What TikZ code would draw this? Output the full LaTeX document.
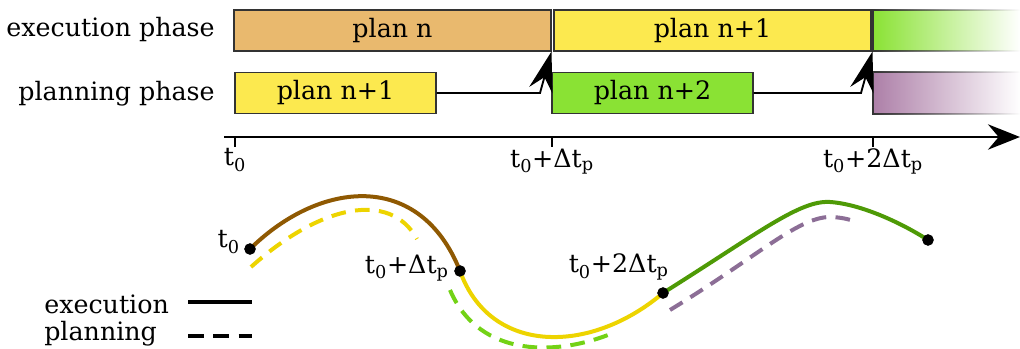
\documentclass[tikz,border=0pt]{standalone}
\usepackage{fontspec}
\setmainfont{DejaVu Serif}
\usetikzlibrary{arrows.meta,fadings}
\definecolor{tOrange}{HTML}{E9B96E}
\definecolor{tButter}{HTML}{FCE94F}
\definecolor{tGreen}{HTML}{8AE234}
\definecolor{tPlum}{HTML}{AD7FA8}
\definecolor{cBrown}{HTML}{8F5902}
\definecolor{cYellow}{HTML}{EDD400}
\definecolor{cGreenL}{HTML}{73D216}
\definecolor{cGreenD}{HTML}{4E9A06}
\definecolor{cPlum}{HTML}{8C6E96}
\tikzfading[name=fadeeast, left color=transparent!0, right color=transparent!100]
\newcommand{\tz}{t\textsubscript{0}}
\newcommand{\tp}{t\textsubscript{p}}
\begin{document}
\begin{tikzpicture}[x=0.75pt,y=-0.75pt,
  font=\fontsize{19}{21}\selectfont,
  phasebox/.style={draw=black!80, line width=1.1pt, minimum height=31pt, inner sep=0pt},
  wide/.style={minimum width=237.75pt},
  narrow/.style={minimum width=150.75pt},
  handoff/.style={draw=black, line width=1.4pt},
  traj/.style={line width=3pt},
  plantraj/.style={line width=3pt, dash pattern=on 11pt off 7pt},
  dot/.style={circle, fill=black, inner sep=0pt, minimum size=8.5pt},
  tick/.style={line width=1.8pt},
  ticklabel/.style={anchor=north, inner sep=1pt},
]
\useasboundingbox (0,0) rectangle (1020,349);

% row labels
\node[anchor=east, inner sep=0pt] (lexec) at (215,30) {execution phase};
\node[anchor=east, inner sep=0pt] (lplan) at (215,94) {planning phase};

% execution row
\node[phasebox, wide, fill=tOrange] (e1) at (392.5,30.5) {plan n};
\node[phasebox, wide, fill=tButter] (e2) at (712.5,30.5) {plan n+1};
\fill[tGreen, path fading=fadeeast] (873,10) rectangle (1020,51);
\draw[black!80, line width=1.1pt, path fading=fadeeast] (1020,10) -- (873,10) -- (873,51) -- (1020,51);

% planning row
\node[phasebox, narrow, fill=tButter] (p1) at (335.5,93) {plan n+1};
\node[phasebox, narrow, fill=tGreen] (p2) at (652.5,93) {plan n+2};
\fill[tPlum, path fading=fadeeast] (873,72) rectangle (1020,114);
\draw[black!80, line width=1.1pt, path fading=fadeeast] (1020,72) -- (873,72) -- (873,114) -- (1020,114);

% hand-off connectors
\coordinate (k1) at (540,0);
\coordinate (k2) at (861,0);
\coordinate (h1) at (551.5,51.5);
\coordinate (h2) at (872.5,51.5);
\draw[handoff, -{Stealth[length=30pt,width=18pt,inset=10pt]}] (p1.east) -- (p1.east -| k1) -- (h1);
\draw[handoff, -{Stealth[length=30pt,width=18pt,inset=10pt]}] (p2.east) -- (p2.east -| k2) -- (h2);

% time axis
\coordinate (a0) at (224,137);
\coordinate (a1) at (1020,137);
\draw[line width=2pt, -{Stealth[length=24pt,width=19pt,inset=8pt]}] (a0) -- (a1);
\coordinate (t0) at (235,137);
\coordinate (t1) at (552,137);
\coordinate (t2) at (873,137);
\draw[tick] (t0) -- ++(0,10) coordinate (t0b);
\draw[tick] (t1) -- ++(0,10) coordinate (t1b);
\draw[tick] (t2) -- ++(0,10) coordinate (t2b);
\node[ticklabel] (lt0) at (t0b) {\tz};
\node[ticklabel] (lt1) at (t1b) {\tz+Δ\tp};
\node[ticklabel] (lt2) at (t2b) {\tz+2Δ\tp};

% trajectories
\node[dot] (d0) at (250,249) {};
\node[dot] (d1) at (460,271) {};
\node[dot] (d2) at (663,293) {};
\node[dot] (d3) at (928,240) {};

\draw[plantraj, cYellow] (251,267) .. controls (320,205) and (390,190) .. (417,239);
\draw[plantraj, cGreenL] (450,290) .. controls (480,360) and (560,355) .. (613,333);
\draw[plantraj, cPlum] (670,310) .. controls (760,255) and (800,215) .. (833,217) .. controls (845,218) and (852,220) .. (858,223);

\draw[traj, cBrown] (d0.center) .. controls (320,180) and (420,170) .. (d1.center);
\draw[traj, cYellow] (d1.center) .. controls (490,355) and (590,355) .. (d2.center);
\draw[traj, cGreenD] (d2.center) .. controls (760,232) and (800,200) .. (830,202) .. controls (860,204) and (900,222) .. (d3.center);

\node[dot] at (d0) {};
\node[dot] at (d1) {};
\node[dot] at (d2) {};
\node[dot] at (d3) {};

\node[anchor=east, inner sep=0pt] (ld0) at (240,242) {\tz};
\node[anchor=east, inner sep=0pt] (ld1) at (449,268) {\tz+Δ\tp};
\node[anchor=east, inner sep=0pt] (ld2) at (669,267) {\tz+2Δ\tp};

% legend
\node[anchor=west, inner sep=0pt] (lgE) at (44,304) {execution};
\node[anchor=west, inner sep=0pt] (lgP) at (44,334) {planning};
\coordinate (le0) at (188,302);
\coordinate (le1) at (252,302);
\coordinate (lp0) at (188,336);
\coordinate (lp1) at (252,336);
\draw[line width=3.5pt] (le0) -- (le1);
\draw[line width=3.5pt, dash pattern=on 12pt off 7pt] (lp0) -- (lp1);
\end{tikzpicture}
\end{document}
